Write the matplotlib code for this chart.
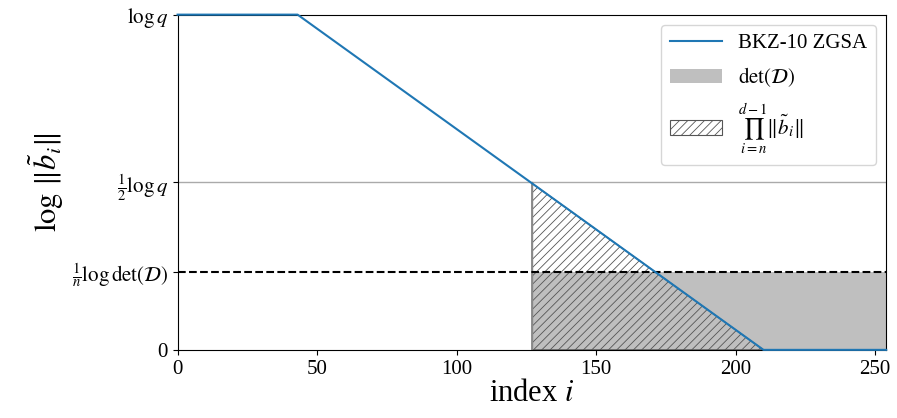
import numpy as np
import matplotlib.pyplot as plt

plt.rcParams['font.family'] = 'Liberation Serif'
plt.rcParams['mathtext.fontset'] = 'stix'
plt.rcParams['hatch.color'] = '#555555'
plt.rcParams['hatch.linewidth'] = 0.6

# profile knots (index, log-norm as fraction of log q)
knot_x = [0, 43, 210, 254]
knot_y = [1.0, 1.0, 0.0, 0.0]
n_idx = 127
det_level = 0.233
x_max = 254

fig, ax = plt.subplots(figsize=(8.97, 4.18), dpi=100)
x = np.arange(0, x_max + 1)
y = np.interp(x, knot_x, knot_y)

ax.axhline(0.5, color='#aaaaaa', lw=1)
ax.fill_between([n_idx, x_max], 0, det_level, color='#bfbfbf', lw=0, label=r'$\det(\mathcal{D})$')
m = x >= n_idx
ax.fill_between(x[m], 0, y[m], facecolor='none', edgecolor='#555555', hatch='////', lw=0.8,
                label=r'$\prod_{i=n}^{d-1}\|\tilde{b}_i\|$')
ax.plot([n_idx, n_idx], [0, 0.5], color='#888888', lw=1)
ax.axhline(det_level, color='black', ls='--', lw=1.5)
ax.plot(x, y, color='#1f77b4', lw=1.5, label='BKZ-10 ZGSA', clip_on=False, zorder=5)

ax.set_xlim(0, x_max)
ax.set_ylim(0, 1)
ax.set_yticks([0, det_level, 0.5, 1])
ax.set_yticklabels(['0', r'$\frac{1}{n}\log\det(\mathcal{D})$', r'$\frac{1}{2}\log q$', r'$\log q$'])
ax.tick_params(labelsize=15)
ax.set_xlabel(r'index $i$', fontsize=22, labelpad=0)
ax.set_ylabel(r'$\log\,\|\tilde{b}_i\|$', fontsize=22)

h, l = ax.get_legend_handles_labels()
order = [2, 0, 1]
ax.legend([h[i] for i in order], [l[i] for i in order], fontsize=15, loc='upper right',
          handlelength=2.5, labelspacing=0.6)
fig.subplots_adjust(left=0.198, right=0.988, top=0.965, bottom=0.163)
fig.savefig('out.png')
